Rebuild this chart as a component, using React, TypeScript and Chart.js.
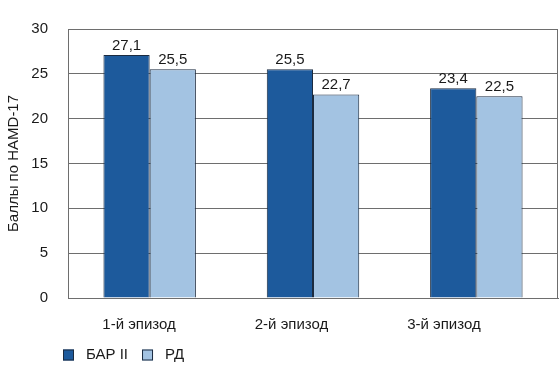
import React, { useEffect, useRef } from "react";
import { Chart, registerables } from "chart.js";

Chart.register(...registerables);

const categories = ["1-й эпизод", "2-й эпизод", "3-й эпизод"];
const seriesNames = ["БАР II", "РД"];
const barII = [27.1, 25.5, 23.4];
const rd = [25.5, 22.7, 22.5];
const yTicks = [0, 5, 10, 15, 20, 25, 30];

const DARK = "#1d5a9c";
const LIGHT = "#a3c3e2";
const EDGE = "#1b2b40";
const TEXT = "#1a1a1a";
const GRID = "#6e6e6e";
const FONT = "'Liberation Sans', Arial, Helvetica, sans-serif";
const SIZE = 15;

const fmt = (v: number) => v.toFixed(1).replace(".", ",");

// value captions above every bar
const valueLabels = {
  id: "valueLabels",
  afterDatasetsDraw(chart: any) {
    const ctx = chart.ctx;
    ctx.save();
    ctx.font = `${SIZE}px ${FONT}`;
    ctx.fillStyle = TEXT;
    ctx.textAlign = "center";
    ctx.textBaseline = "alphabetic";
    chart.data.datasets.forEach((ds: any, i: number) => {
      const meta = chart.getDatasetMeta(i);
      meta.data.forEach((el: any, j: number) => {
        ctx.fillText(fmt(ds.data[j]), el.x, el.y - 5);
      });
    });
    ctx.restore();
  },
};

// frame round the plot area
const plotFrame = {
  id: "plotFrame",
  afterDatasetsDraw(chart: any) {
    const { ctx, chartArea: a } = chart;
    ctx.save();
    ctx.strokeStyle = GRID;
    ctx.lineWidth = 1;
    ctx.beginPath();
    ctx.moveTo(a.left, a.top + 0.5);
    ctx.lineTo(Math.round(a.right) - 0.5, a.top + 0.5);
    ctx.lineTo(Math.round(a.right) - 0.5, a.bottom);
    ctx.stroke();
    ctx.restore();
  },
};

// legend row under the category labels
const bottomLegend = {
  id: "bottomLegend",
  afterDraw(chart: any) {
    const ctx = chart.ctx;
    ctx.save();
    ctx.font = `${SIZE}px ${FONT}`;
    ctx.textBaseline = "middle";
    let x = 63;
    const y = 355;
    chart.data.datasets.forEach((ds: any) => {
      ctx.fillStyle = ds.backgroundColor;
      ctx.fillRect(x, y - 5.5, 11, 11);
      ctx.strokeStyle = EDGE;
      ctx.lineWidth = 1;
      ctx.strokeRect(x + 0.5, y - 5, 10, 10);
      ctx.fillStyle = TEXT;
      ctx.textAlign = "left";
      ctx.fillText(ds.label, x + 23, y);
      x += 23 + ctx.measureText(ds.label).width + 14;
    });
    ctx.restore();
  },
};

const LABEL_MIN = -0.466;
const LABEL_MAX = 2.748;

export default function App() {
  const ref = useRef<HTMLCanvasElement>(null);

  useEffect(() => {
    if (!ref.current) return;
    const chart = new Chart(ref.current, {
      type: "bar",
      data: {
        labels: categories,
        datasets: [
          {
            label: seriesNames[0],
            data: barII,
            backgroundColor: DARK,
            borderColor: EDGE,
            borderWidth: 1,
          },
          {
            label: seriesNames[1],
            data: rd,
            backgroundColor: LIGHT,
            borderColor: EDGE,
            borderWidth: 1,
          },
        ],
      },
      options: {
        animation: false,
        responsive: false,
        layout: { padding: { top: 21, right: 2, left: 0, bottom: 0 } },
        plugins: {
          legend: { display: false },
          tooltip: { enabled: false },
        },
        datasets: {
          bar: { categoryPercentage: 0.566, barPercentage: 1 },
        },
        scales: {
          x: {
            grid: { display: false, drawTicks: false },
            border: { display: true, color: GRID },
            ticks: { display: false },
            afterFit(scale: any) {
              scale.height = 0;
            },
          },
          // category captions sit on their own, slightly tighter, index axis
          xl: {
            type: "linear",
            position: "bottom",
            offset: false,
            min: LABEL_MIN,
            max: LABEL_MAX,
            grid: { display: false, drawTicks: false, offset: false },
            border: { display: false },
            afterDataLimits(scale: any) {
              scale.min = LABEL_MIN;
              scale.max = LABEL_MAX;
            },
            afterBuildTicks(scale: any) {
              scale.ticks = categories.map((_, i) => ({ value: i }));
            },
            ticks: {
              color: TEXT,
              font: { family: FONT, size: SIZE },
              padding: 18,
              callback: (v: any) => categories[Number(v)] ?? "",
            },
            afterFit(scale: any) {
              scale.height = 67;
            },
          },
          y: {
            min: 0,
            max: 30,
            afterBuildTicks(scale: any) {
              scale.ticks = yTicks.map((v) => ({ value: v }));
            },
            grid: { color: GRID, drawTicks: false },
            border: { display: true, color: GRID },
            ticks: { color: TEXT, font: { family: FONT, size: SIZE }, padding: 20 },
            title: {
              display: true,
              text: "Баллы по HAMD-17",
              color: TEXT,
              font: { family: FONT, size: SIZE },
              padding: { top: 5, bottom: 0 },
            },
            afterFit(scale: any) {
              scale.width = 68;
            },
          },
        },
      } as any,
      plugins: [valueLabels, plotFrame, bottomLegend],
    });
    return () => chart.destroy();
  }, []);

  return (
    <div style={{ position: "absolute", left: 0, top: 0, width: 560, height: 365, background: "#fff" }}>
      <canvas ref={ref} width={560} height={365} />
    </div>
  );
}
